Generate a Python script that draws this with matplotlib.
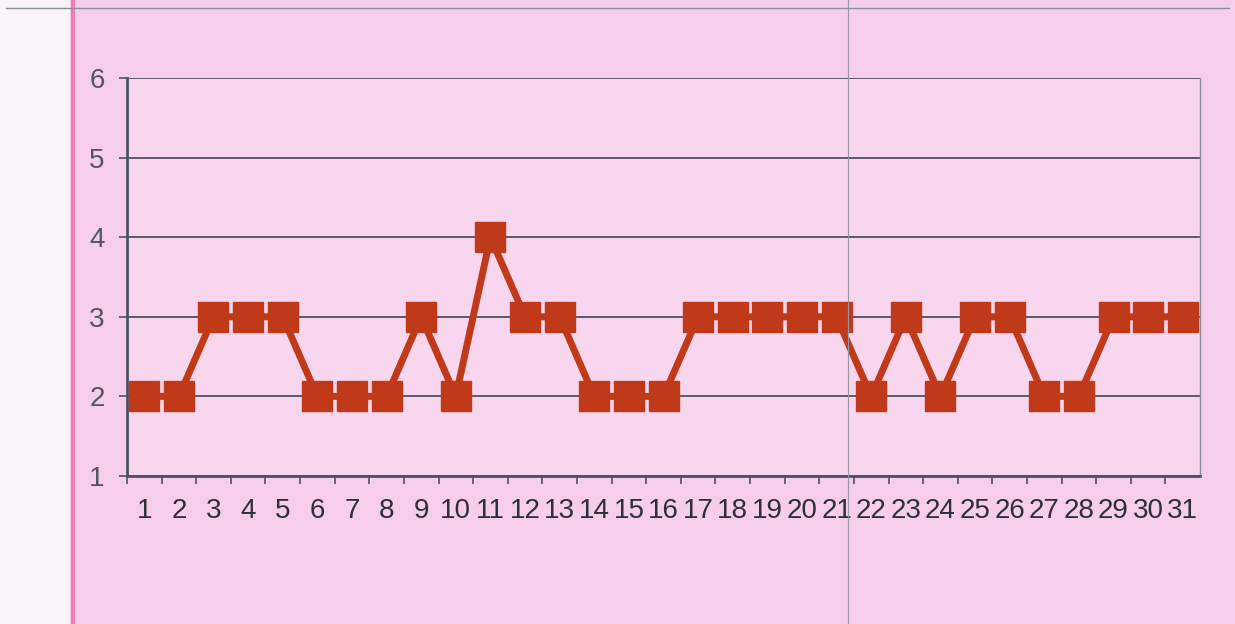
import matplotlib.pyplot as plt
from matplotlib.lines import Line2D
from matplotlib.patches import Rectangle

# данные: день месяца и значение
days = list(range(1, 32))
values = [2, 2, 3, 3, 3, 2, 2, 2, 3, 2, 4, 3, 3, 2, 2, 2,
          3, 3, 3, 3, 3, 2, 3, 2, 3, 3, 2, 2, 3, 3, 3]
y_ticks = [1, 2, 3, 4, 5, 6]

bg_pink = '#f6cdea'
line_color = '#c03a1a'
grid_color = '#4a5266'

plt.rcParams['font.family'] = ['Liberation Sans', 'DejaVu Sans']

fig = plt.figure(figsize=(12.35, 6.24), dpi=100)
fig.patch.set_facecolor(bg_pink)

# белая полоса слева (как на скане)
fig.add_artist(Rectangle((0, 0), 0.057, 1, transform=fig.transFigure,
                         facecolor='#fbf3f8', edgecolor='none', zorder=0))
fig.add_artist(Line2D([0.059, 0.059], [0, 1], transform=fig.transFigure,
                      color='#ee7fb8', lw=3, zorder=1))
fig.add_artist(Line2D([0.005, 0.995], [0.987, 0.987], transform=fig.transFigure,
                      color='#8a8f9a', lw=1, zorder=1))
fig.add_artist(Line2D([0.687, 0.687], [0, 1], transform=fig.transFigure,
                      color='#9a94a4', lw=0.8, zorder=1))

ax = fig.add_axes([0.1028, 0.2372, 0.8689, 0.6378])
ax.set_facecolor('#f8d6ee')

ax.plot(days, values, color=line_color, lw=5, marker='s',
        markersize=21, markerfacecolor=line_color, markeredgecolor=line_color,
        zorder=3)

ax.set_xlim(0.5, 31.5)
ax.set_ylim(1, 6)
ax.set_yticks(y_ticks)
ax.yaxis.grid(True, color=grid_color, lw=1.3)
ax.set_axisbelow(True)

# подписи по центрам категорий, засечки — на границах
ax.set_xticks(days)
ax.set_xticklabels([str(d) for d in days])
ax.set_xticks([d + 0.5 for d in range(0, 31)], minor=True)
ax.tick_params(axis='x', which='major', length=0, pad=16,
               labelsize=20, labelcolor='#2e3038')
ax.tick_params(axis='x', which='minor', length=6, width=1.2, color=grid_color,
               direction='out')
ax.tick_params(axis='y', length=6, width=1.2, color=grid_color,
               labelsize=20, labelcolor='#555560', pad=10)

for side in ['left', 'bottom']:
    ax.spines[side].set_color(grid_color)
    ax.spines[side].set_linewidth(2)
ax.spines['right'].set_color('#8a8f9a')
ax.spines['right'].set_linewidth(1)
ax.spines['top'].set_visible(False)

fig.savefig('out.png', facecolor=fig.get_facecolor())
plt.close()
